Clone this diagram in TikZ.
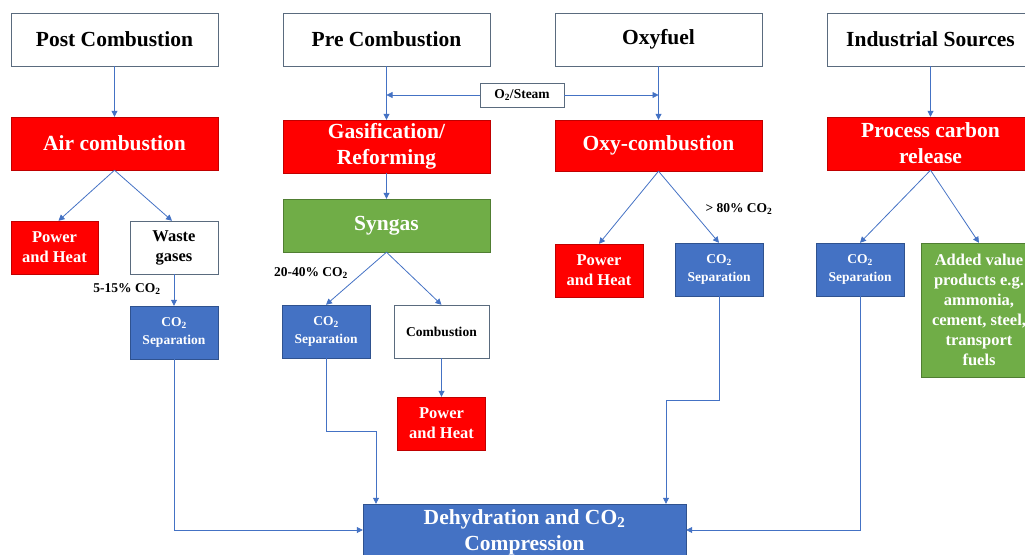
\documentclass[tikz,border=0pt]{standalone}
\usepackage{fontspec}
\setmainfont{Liberation Serif}
\usetikzlibrary{arrows.meta}

\definecolor{boxred}{HTML}{FF0000}
\definecolor{boxblue}{HTML}{4472C4}
\definecolor{boxgreen}{HTML}{70AD47}
\definecolor{edgered}{HTML}{C00000}
\definecolor{edgeblue}{HTML}{2F528F}
\definecolor{edgegreen}{HTML}{507E32}
\definecolor{edgegray}{HTML}{5A6B7E}

\begin{document}
\begin{tikzpicture}[x=1pt,y=1pt]
        \tikzstyle{every node}+=[inner sep=0pt, align=center]
        \tikzstyle{big}=[font=\bfseries\fontsize{21.5}{26}\selectfont]
        \tikzstyle{mid}=[font=\bfseries\fontsize{16.5}{20}\selectfont]
        \tikzstyle{small}=[font=\bfseries\fontsize{13.5}{18}\selectfont]
        \tikzstyle{head}=[big, draw=edgegray, fill=white, minimum width=207pt, minimum height=53pt]
        \tikzstyle{redbox}=[draw=edgered, fill=boxred, text=white]
        \tikzstyle{bluebox}=[draw=edgeblue, fill=boxblue, text=white]
        \tikzstyle{greenbox}=[draw=edgegreen, fill=boxgreen, text=white]
        \tikzstyle{whitebox}=[draw=edgegray, fill=white]
        \tikzstyle{flow}=[draw=boxblue, line width=0.8pt, -{Triangle[length=6pt,width=6pt]}]
        \useasboundingbox (0,0) rectangle (1025,-554);
        % top row
        \node [head] (post) at (114.5,-39.5) {Post Combustion};
        \node [head] (pre) at (386.5,-39.5) {Pre Combustion};
        \node [head] (oxy) at (658.5,-39.5) {Oxyfuel};
        \node [head] (ind) at (930.5,-39.5) {Industrial Sources};
        \node [whitebox, small, minimum width=84pt, minimum height=24pt] (steam) at (522,-95) {O\textsubscript{2}/Steam};
        % second row
        \node [redbox, big, minimum width=207pt, minimum height=53pt] (air) at (114.5,-143.5) {Air combustion};
        \node [redbox, big, minimum width=207pt, minimum height=53pt] (gas) at (386.5,-146.5) {Gasification/\\Reforming};
        \node [redbox, big, minimum width=207pt, minimum height=51pt] (oxc) at (658.5,-145.5) {Oxy-combustion};
        \node [redbox, big, minimum width=207pt, minimum height=53pt] (pcr) at (930.5,-143.5) {Process carbon\\release};
        \node [greenbox, big, minimum width=207pt, minimum height=53pt] (syn) at (386.5,-225.5) {Syngas};
        % post combustion branch
        \node [redbox, mid, minimum width=87pt, minimum height=53pt] (heatA) at (54.5,-247.5) {Power\\and Heat};
        \node [whitebox, mid, minimum width=88pt, minimum height=53pt] (waste) at (174,-247.5) {Waste\\gases};
        \node [bluebox, small, minimum width=88pt, minimum height=53pt] (sepA) at (174,-332.5) {CO\textsubscript{2}\\Separation};
        \node [small] (pctA) at (127,-289) {5-15\% CO\textsubscript{2}};
        % pre combustion branch
        \node [bluebox, small, minimum width=88pt, minimum height=53pt] (sepB) at (326,-331.5) {CO\textsubscript{2}\\Separation};
        \node [whitebox, small, minimum width=95pt, minimum height=53pt] (comb) at (441.5,-331.5) {Combustion};
        \node [redbox, mid, minimum width=88pt, minimum height=53pt] (heatB) at (441.5,-423.5) {Power\\and Heat};
        \node [small] (pctB) at (311,-273) {20-40\% CO\textsubscript{2}};
        % oxyfuel branch
        \node [redbox, mid, minimum width=88pt, minimum height=53pt] (heatC) at (599,-270.5) {Power\\and Heat};
        \node [bluebox, small, minimum width=88pt, minimum height=53pt] (sepC) at (719,-269.5) {CO\textsubscript{2}\\Separation};
        \node [small] (pctC) at (739,-209) {> 80\% CO\textsubscript{2}};
        % industrial branch
        \node [bluebox, small, minimum width=88pt, minimum height=53pt] (sepD) at (860,-269.5) {CO\textsubscript{2}\\Separation};
        \node [greenbox, mid, minimum width=116pt, minimum height=134pt] (added) at (979,-310) {Added value\\products e.g.\\ammonia,\\cement, steel,\\transport\\fuels};
        % end
        \node [bluebox, big, minimum width=323pt, minimum height=56pt] (dehy) at (524.5,-532) {Dehydration and CO\textsubscript{2}\\Compression};
        % connectors
        \draw [flow] (post.south) -- (air.north);
        \draw [flow] (pre.south) -- (gas.north);
        \draw [flow] (oxy.south) -- (oxc.north);
        \draw [flow] (ind.south) -- (pcr.north);
        \draw [flow] (steam.west) -- (steam.west -| pre.south);
        \draw [flow] (steam.east) -- (steam.east -| oxy.south);
        \draw [flow] (gas.south) -- (syn.north);
        \draw [flow] (air.south) -- ([xshift=4pt]heatA.north);
        \draw [flow] (air.south) -- ([xshift=-2pt]waste.north);
        \draw [flow] (waste.south) -- (sepA.north);
        \draw [flow] (syn.south) -- (sepB.north);
        \draw [flow] (syn.south) -- (comb.north);
        \draw [flow] (comb.south) -- (heatB.north);
        \draw [flow] (oxc.south) -- (heatC.north);
        \draw [flow] (oxc.south) -- (sepC.north);
        \draw [flow] (pcr.south) -- (sepD.north);
        \draw [flow] (pcr.south) -- (added.north);
        \draw [flow] (sepA.south) |- ([yshift=2pt]dehy.west);
        \draw [flow] (sepB.south) -- ++(0,-73) -| ([xshift=-148.5pt]dehy.north);
        \draw [flow] (sepC.south) -- ++(0,-104) -| ([xshift=141.5pt]dehy.north);
        \draw [flow] (sepD.south) |- ([yshift=2pt]dehy.east);
\end{tikzpicture}
\end{document}
